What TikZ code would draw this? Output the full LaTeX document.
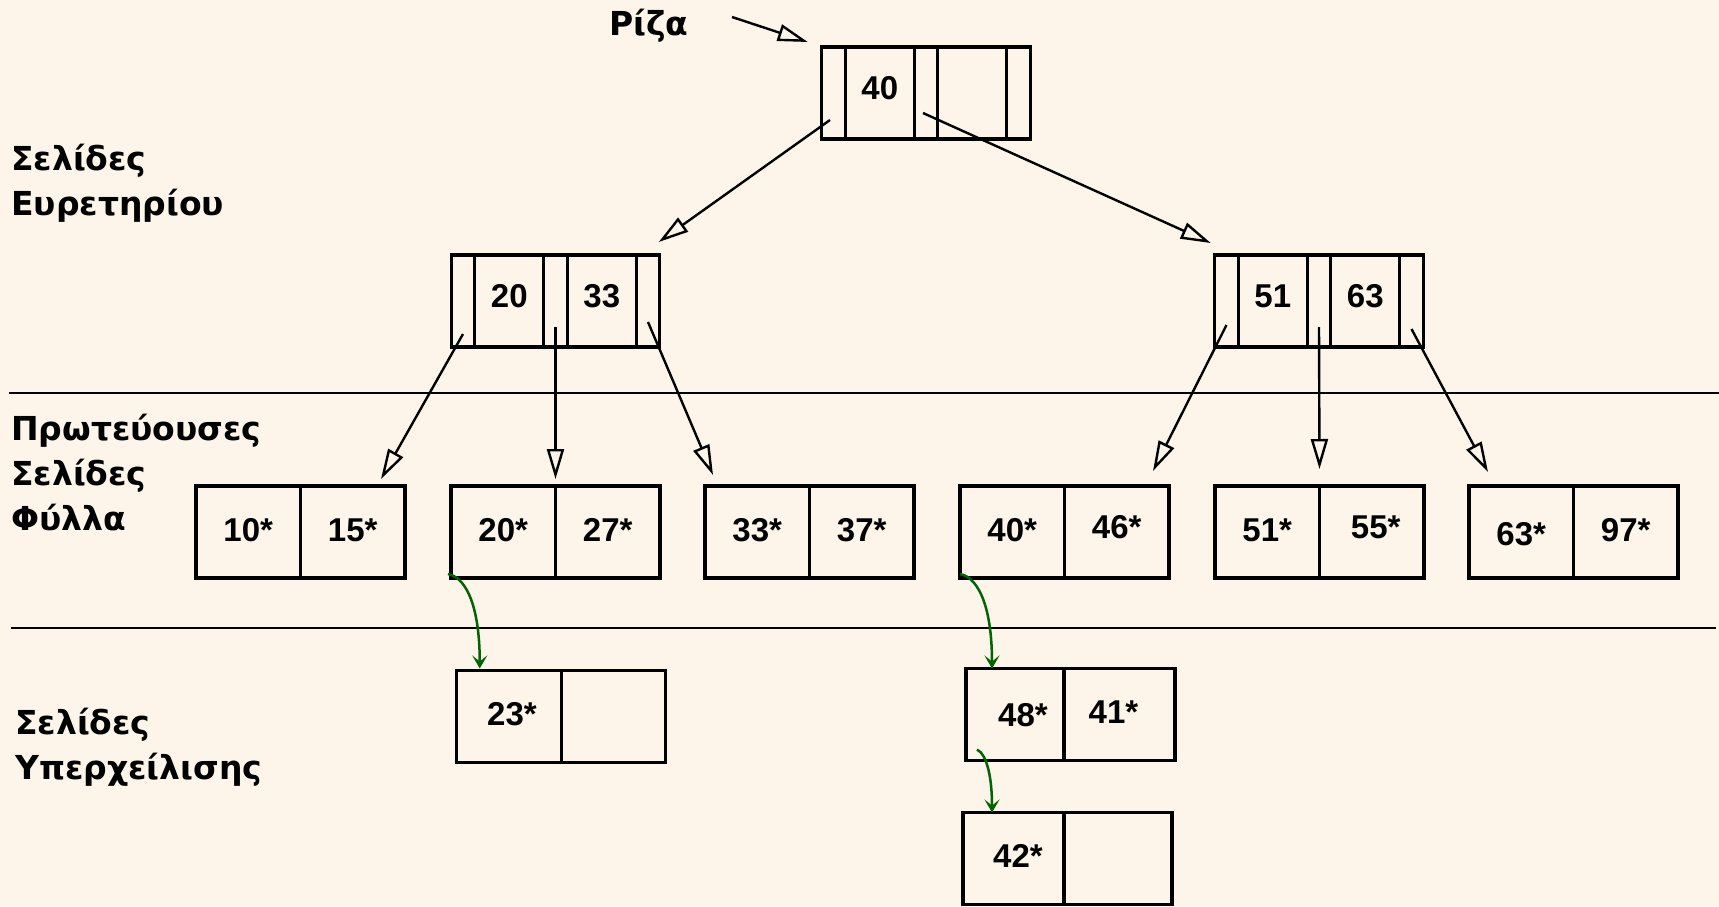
\documentclass[tikz,border=0pt]{standalone}
\usepackage{fontspec}
\setmainfont{Liberation Sans}
\newfontfamily\greekcap{DejaVu Sans}
\usetikzlibrary{positioning,calc,arrows.meta}

\definecolor{pagebg}{RGB}{253,245,233}
\definecolor{linkgreen}{RGB}{0,100,0}

\tikzset{
  every node/.style={font=\fontsize{33}{45}\selectfont\bfseries},
  slot/.style={draw, line width=3.3pt, inner sep=0pt, outer sep=0pt,
               minimum height=92pt, text height=23pt, text depth=5pt},
  ptrslot/.style={slot, minimum width=23.5pt},
  keyslot/.style={slot, minimum width=69pt, text depth=10pt},
  leafslot/.style={slot, minimum width=104.5pt},
  treearrow/.style={line width=2.4pt,
                    -{Triangle[open, length=30pt, width=17pt, line width=2.4pt]}},
  chainarrow/.style={line width=2.5pt, linkgreen,
                     -{Stealth[length=13pt, width=15pt, inset=6pt]}},
  greek/.style={font=\greekcap\fontsize{33}{45}\selectfont\bfseries},
  layer/.style={greek, align=left, anchor=north west, inner sep=0pt},
}

\begin{document}
\begin{tikzpicture}[x=1pt, y=-1pt]
\fill[pagebg] (0,0) rectangle (1719,906);
\useasboundingbox (0,0) rectangle (1719,906);

% level separators
\draw[line width=2.2pt] (9,393) -- (1719,393);
\draw[line width=2.2pt] (11,628) -- (1716,628);

% side captions
\node[layer] (idx) at (11,144) {Σελίδες\\Ευρετηρίου};
\node[layer] (prim) at (11,414) {Πρωτεύουσες\\Σελίδες\\Φύλλα};
\node[layer] (ovf) at (15,708) {Σελίδες\\Υπερχείλισης};

% root
\node[greek] (riza) at (649,26) {Ρίζα};
\coordinate (rizatail) at (732,17);
\node[ptrslot] (r2) at (926,93) {};
\node[keyslot, left=0pt of r2] (r1) {40};
\node[ptrslot, left=0pt of r1] (r0) {};
\node[keyslot, right=0pt of r2] (r3) {};
\node[ptrslot, right=0pt of r3] (r4) {};

% index pages
\node[ptrslot] (a2) at (555.5,301) {};
\node[keyslot, left=0pt of a2] (a1) {20};
\node[ptrslot, left=0pt of a1] (a0) {};
\node[keyslot, right=0pt of a2] (a3) {33};
\node[ptrslot, right=0pt of a3] (a4) {};

\node[ptrslot] (b2) at (1319,301) {};
\node[keyslot, left=0pt of b2] (b1) {51};
\node[ptrslot, left=0pt of b1] (b0) {};
\node[keyslot, right=0pt of b2] (b3) {63};
\node[ptrslot, right=0pt of b3] (b4) {};

% leaf pages
\node[leafslot] (l1a) at (248.25,532) {10*};
\node[leafslot, right=0pt of l1a] (l1b) {15*};
\node[leafslot] (l2a) at (503.25,532) {20*};
\node[leafslot, right=0pt of l2a] (l2b) {27*};
\node[leafslot] (l3a) at (757.25,532) {33*};
\node[leafslot, right=0pt of l3a] (l3b) {37*};
\node[leafslot] (l4a) at (1012.25,532) {40*};
\node[leafslot, right=0pt of l4a] (l4b) {\raisebox{3pt}{46*}};
\node[leafslot] (l5a) at (1267.25,532) {51*};
\node[leafslot, right=0pt of l5a] (l5b) {\hspace*{8pt}\raisebox{3pt}{55*}};
\node[leafslot] (l6a) at (1521.25,532) {\raisebox{-4pt}{63*}};
\node[leafslot, right=0pt of l6a] (l6b) {97*};

% overflow pages
\node[leafslot] (o1a) at (509,716.5) {\hspace*{6pt}23*};
\node[leafslot, right=0pt of o1a] (o1b) {};
\node[leafslot, minimum width=98pt] (o2a) at (1015,714.5) {\hspace*{16pt}\raisebox{-3pt}{48*}};
\node[leafslot, minimum width=111pt, right=0pt of o2a] (o2b) {41*\hspace*{12pt}};
\node[leafslot, minimum width=101pt] (o3a) at (1013.5,858.5) {\hspace*{9pt}42*};
\node[leafslot, minimum width=108pt, right=0pt of o3a] (o3b) {};

% tree pointers
\draw[treearrow] (rizatail) -- ($(r0.north west)+(-14,-5)$);
\draw[treearrow] ($(r0)+(-3.5,27)$) -- ($(a4.north east)+(-1,-13)$);
\draw[treearrow] ($(r2)+(-3,20)$) -- ($(b0.north west)+(-4,-12)$);
\draw[treearrow] ($(a0)+(0,33)$) -- ($(l1b.north east)+(-24,-7)$);
\draw[treearrow] ($(a2)+(0,26)$) -- ($(l2a.north east)+(0,-7)$);
\draw[treearrow] ($(a4)+(0,21)$) -- ($(l3a.north west)+(8,-11)$);
\draw[treearrow] ($(b0)+(0,24)$) -- ($(l4b.north east)+(-16,-15)$);
\draw[treearrow] ($(b2)+(0,26)$) -- ($(l5a.north east)+(0,-17)$);
\draw[treearrow] ($(b4)+(0,28)$) -- ($(l6a.north west)+(19,-14)$);

% overflow chains
\draw[chainarrow] ($(l2a.south west)+(-3,-4)$) .. controls +(20,4) and +(0,-58) .. ($(o1a.north west)+(23,-2)$);
\draw[chainarrow] ($(l4a.south west)+(0,-4)$) .. controls +(20,4) and +(0,-58) .. ($(o2a.north west)+(26,0)$);
\draw[chainarrow] ($(o2a.south west)+(11,-11)$) .. controls +(10,5) and +(0,-35) .. ($(o3a.north west)+(29,0)$);
\end{tikzpicture}
\end{document}
